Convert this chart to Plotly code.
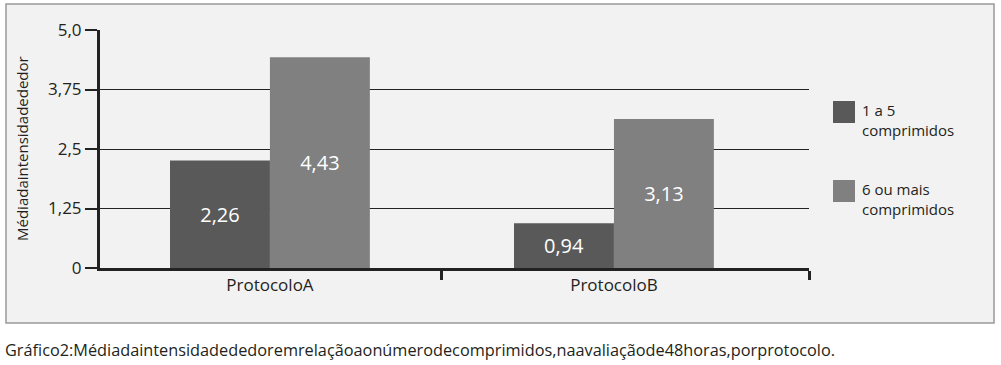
import plotly.graph_objects as go

categories = ["ProtocoloA", "ProtocoloB"]
series_names = ["1 a 5<br>comprimidos", "6 ou mais<br>comprimidos"]
values_1a5 = [2.26, 0.94]
values_6mais = [4.43, 3.13]
ytick_vals = [0, 1.25, 2.5, 3.75, 5.0]
ytick_text = ["0", "1,25", "2,5", "3,75", "5,0"]
colors = ["#595959", "#808080"]
y_title = "Médiadaintensidadededor"
caption = "Gráfico2:Médiadaintensidadededoremrelaçãoaonúmerodecomprimidos,naavaliaçãode48horas,porprotocolo."

FONT = "Open Sans"
W, H = 1001, 365
L, R, T, B = 100, 192, 30, 97
pw, ph = W - L - R, H - T - B

def px_x(px):
    return (px - L) / pw

def px_y(py):
    return (H - B - py) / ph

xpos = list(range(len(categories)))
fig = go.Figure()
for name, vals, col in [(series_names[0], values_1a5, colors[0]), (series_names[1], values_6mais, colors[1])]:
    fig.add_trace(go.Bar(
        x=xpos, y=vals, name=name, marker=dict(color=col, line=dict(width=0)),
        text=[f"{v:.2f}".replace(".", ",") for v in vals],
        textposition="inside", insidetextanchor="middle",
        textfont=dict(color="white", size=20, family=FONT),
        showlegend=False, hoverinfo="skip",
    ))

fig.update_layout(
    width=W, height=H,
    margin=dict(l=L, r=R, t=T, b=B, autoexpand=False),
    paper_bgcolor="white", plot_bgcolor="rgba(0,0,0,0)",
    barmode="group", bargap=0.419, bargroupgap=0,
    font=dict(family=FONT, size=15, color="#231f20"),
    xaxis=dict(
        range=[-0.494, 1.567], tickvals=xpos, ticktext=categories,
        ticks="", showgrid=False, zeroline=False,
        showline=True, linewidth=3, linecolor="#222",
        tickfont=dict(size=17, family=FONT, color="#231f20"),
        minor=dict(tickmode="array", tickvals=[0.5, 1.567], ticks="outside",
                   ticklen=9, tickwidth=3, tickcolor="#222", showgrid=False),
    ),
    yaxis=dict(
        range=[0, 5], tickvals=ytick_vals, ticktext=ytick_text,
        ticks="outside", ticklen=12, tickwidth=2, tickcolor="#222",
        showgrid=True, gridcolor="#222", gridwidth=1, zeroline=False,
        showline=True, linewidth=3, linecolor="#222",
        tickfont=dict(size=17, family=FONT, color="#231f20"),
    ),
)

# background panel
fig.add_shape(type="rect", xref="paper", yref="paper",
              x0=px_x(6), x1=px_x(994), y0=px_y(323), y1=px_y(4),
              fillcolor="#f2f2f2", line=dict(color="#999999", width=1.5), layer="below")

# y title
fig.add_annotation(xref="paper", yref="paper", x=px_x(22), y=px_y(149),
                   text=y_title, textangle=-90, showarrow=False,
                   font=dict(size=15, family=FONT, color="#231f20"),
                   xanchor="center", yanchor="middle")

# legend
for i, (name, col) in enumerate(zip(series_names, colors)):
    top = 101 + i * 79
    fig.add_shape(type="rect", xref="paper", yref="paper",
                  x0=px_x(833), x1=px_x(855), y0=px_y(top + 22), y1=px_y(top),
                  fillcolor=col, line=dict(width=0))
    fig.add_annotation(xref="paper", yref="paper", x=px_x(860), y=px_y(top - 3),
                       text=name, showarrow=False, align="left",
                       xanchor="left", yanchor="top",
                       font=dict(size=15, family=FONT, color="#231f20"))

# caption
fig.add_annotation(xref="paper", yref="paper", x=px_x(3), y=px_y(350),
                   text=caption, showarrow=False, xanchor="left", yanchor="middle",
                   font=dict(size=16.3, family=FONT, color="#231f20"))

fig.write_html("out.html", config={"displayModeBar": False},
               post_script="document.body.style.margin='0';document.body.style.overflow='hidden';")
